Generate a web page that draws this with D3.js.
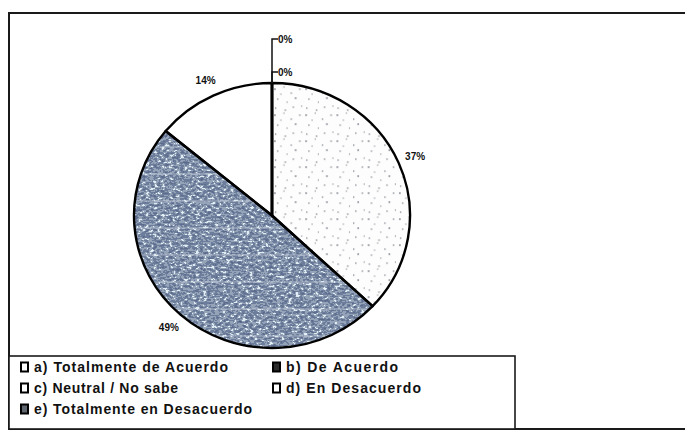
<!DOCTYPE html>
<html>
<head>
<meta charset="utf-8">
<script src="https://cdn.jsdelivr.net/npm/d3@7"></script>
<style>
  html, body { margin: 0; padding: 0; background: #fff; }
  svg { display: block; }
</style>
</head>
<body>
<svg id="chart" width="685" height="431"></svg>
<script>
// Survey answers and their share of responses (%)
const categories = [
  "a) Totalmente de Acuerdo",
  "b) De Acuerdo",
  "c) Neutral / No sabe",
  "d) En Desacuerdo",
  "e) Totalmente en Desacuerdo"
];
const shares = [0, 0, 37, 49, 14];
const shareLabels = ["0%", "0%", "37%", "49%", "14%"];

const svg = d3.select("#chart");

// Layout
const cx = 272, cy = 215.5, rx = 138, ry = 132.5;
const font = "'Liberation Sans', Arial, sans-serif";

const defs = svg.append("defs");

// Sparse speckle for the "neutral" slice
const speck = defs.append("pattern")
  .attr("id", "speck").attr("patternUnits", "userSpaceOnUse")
  .attr("width", 30).attr("height", 26);
speck.append("rect").attr("width", 30).attr("height", 26).attr("fill", "#fdfdfd");
[[2,3],[11,1],[18,7],[26,3],[5,13],[14,16],[22,12],[28,20],[3,22],[12,24],[20,21],[8,8]]
  .forEach(([x, y], i) => speck.append("rect")
    .attr("x", x).attr("y", y).attr("width", i % 3 === 0 ? 1.5 : 1).attr("height", 1.2)
    .attr("fill", i % 2 ? "#80848c" : "#4f5563"));

// Coarse grain for the "desacuerdo" slice
const grain = defs.append("filter").attr("id", "grain")
  .attr("x", 0).attr("y", 0).attr("width", 1).attr("height", 1);
grain.append("feTurbulence").attr("type", "fractalNoise")
  .attr("baseFrequency", "0.26 0.42").attr("numOctaves", 2).attr("seed", 7);
grain.append("feColorMatrix").attr("type", "matrix")
  .attr("values", "1 0 0 0 0  1 0 0 0 0  1 0 0 0 0  0 0 0 0 1");
const ct = grain.append("feComponentTransfer");
ct.append("feFuncR").attr("type", "discrete").attr("tableValues", "0.09 0.11 0.15 0.30 0.74 0.84");
ct.append("feFuncG").attr("type", "discrete").attr("tableValues", "0.13 0.15 0.20 0.37 0.84 0.92");
ct.append("feFuncB").attr("type", "discrete").attr("tableValues", "0.24 0.27 0.33 0.48 0.90 0.96");
ct.append("feFuncA").attr("type", "linear").attr("slope", 0).attr("intercept", 1);

// Outer frame
svg.append("rect").attr("x", 9).attr("y", 13).attr("width", 700).attr("height", 416)
  .attr("fill", "#fff").attr("stroke", "#1a1a1a").attr("stroke-width", 2);

// Pie geometry
const pie = d3.pie().sort(null).value(d => d)(shares);
const arc = d3.arc().innerRadius(0).outerRadius(ry);
const sx = rx / ry;
const pieTransform = `translate(${cx},${cy}) scale(${sx},1)`;

const fills = ["#ffffff", "#ffffff", "url(#speck)", null, "#ffffff"];

const g = svg.append("g");

pie.forEach((p, i) => {
  if (p.endAngle - p.startAngle <= 0) return;
  if (fills[i]) {
    g.append("path").attr("d", arc(p)).attr("transform", pieTransform)
      .attr("fill", fills[i]).attr("stroke", "none");
  } else {
    const id = "clip" + i;
    defs.append("clipPath").attr("id", id)
      .append("path").attr("d", arc(p)).attr("transform", pieTransform);
    const cg = g.append("g").attr("clip-path", `url(#${id})`);
    cg.append("rect").attr("x", cx - rx - 2).attr("y", cy - ry - 2)
      .attr("width", 2 * rx + 4).attr("height", 2 * ry + 4)
      .attr("filter", "url(#grain)");
    // faint horizontal scan streaks
    d3.range(cy - ry + 10, cy + ry, 27).forEach(y => {
      cg.append("line").attr("x1", cx - rx).attr("x2", cx + rx)
        .attr("y1", y).attr("y2", y)
        .attr("stroke", "#dfe6ee").attr("stroke-width", 1).attr("opacity", 0.6);
    });
  }
});

// Slice outlines
g.selectAll("path.edge").data(pie).join("path").attr("class", "edge")
  .attr("d", d => arc(d)).attr("transform", pieTransform)
  .attr("fill", "none").attr("stroke", "#000").attr("stroke-width", 2.4)
  .attr("vector-effect", "non-scaling-stroke").attr("stroke-linejoin", "round");

// Data labels
const labelR = 1.13;
const lab = svg.append("g").attr("font-family", font).attr("font-weight", "bold")
  .attr("font-size", 10).attr("fill", "#111");
let zeroCount = 0;
pie.forEach((p, i) => {
  const a = (p.startAngle + p.endAngle) / 2;
  if (p.endAngle - p.startAngle <= 0) {
    // zero slices: stacked leader lines from the top of the pie
    const yTop = cy - ry;
    const yl = yTop - 11 - zeroCount * 33;
    lab.append("path")
      .attr("d", `M${cx},${yTop} L${cx},${yl} L${cx + 6},${yl}`)
      .attr("fill", "none").attr("stroke", "#111").attr("stroke-width", 1.5);
    lab.append("text").attr("x", cx + 6).attr("y", yl + 3.5)
      .text(shareLabels[i]);
    zeroCount++;
  } else {
    const x = cx + Math.sin(a) * rx * labelR;
    const y = cy - Math.cos(a) * ry * labelR;
    lab.append("text").attr("x", x).attr("y", y + 3.5)
      .attr("text-anchor", "middle").text(shareLabels[i]);
  }
});

// Legend
const legX = 9, legY = 356, legW = 506, legH = 73;
svg.append("rect").attr("x", legX).attr("y", legY).attr("width", legW).attr("height", legH)
  .attr("fill", "#fff").attr("stroke", "#1a1a1a").attr("stroke-width", 1.6);

const swatch = ["#ffffff", "#2b2b2b", "#ffffff", "#ffffff", "#5f6670"];
const textLen = [194, 112, 144, 135, 218];
const leg = svg.append("g").attr("font-family", font).attr("font-weight", "bold")
  .attr("font-size", 14).attr("fill", "#111");
categories.forEach((c, i) => {
  const col = i % 2, row = Math.floor(i / 2);
  const x = col === 0 ? 21 : 273;
  const yc = 367 + row * 21;
  leg.append("rect").attr("x", x).attr("y", yc - 4.5).attr("width", 7).attr("height", 9)
    .attr("fill", swatch[i]).attr("stroke", "#000").attr("stroke-width", 2);
  leg.append("text").attr("x", x + 13).attr("y", yc + 5)
    .attr("textLength", textLen[i]).attr("lengthAdjust", "spacing")
    .text(c);
});
</script>
</body>
</html>
